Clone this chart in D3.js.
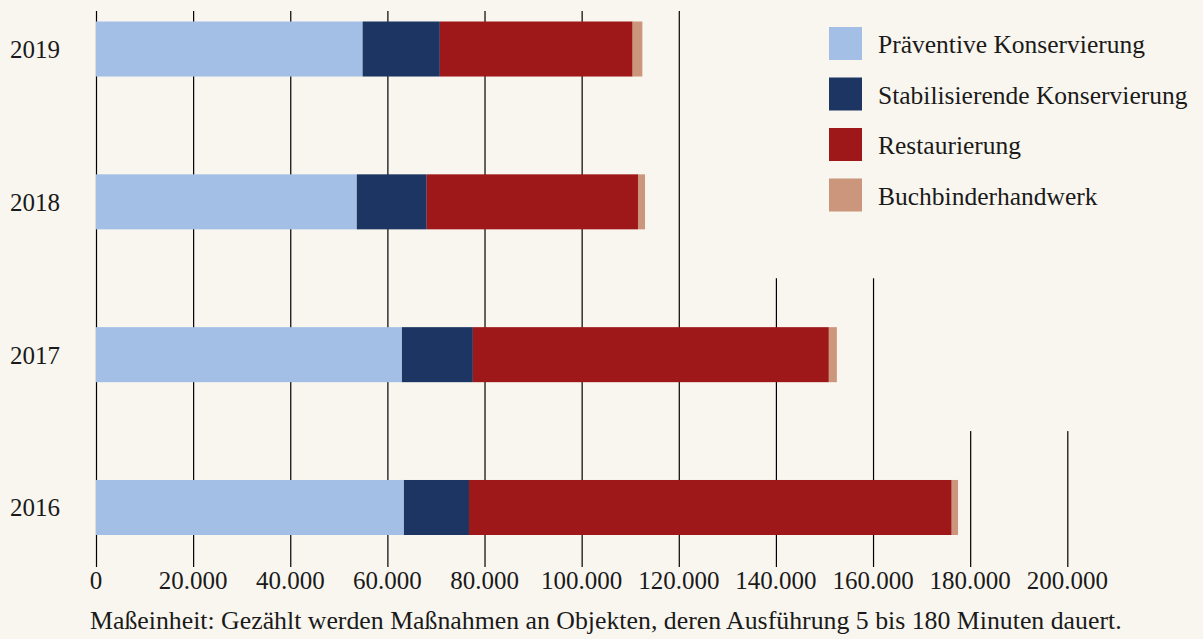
<!DOCTYPE html>
<html><head><meta charset="utf-8">
<script src="https://cdn.jsdelivr.net/npm/d3@7"></script>
<style>
html,body{margin:0;padding:0;background:#f9f6ef;}
svg{display:block;font-family:"Liberation Serif","Times New Roman",serif;}
</style></head>
<body>
<svg id="chart" width="1203" height="639"></svg>
<script>
const years = ["2019","2018","2017","2016"];
const seriesNames = ["Präventive Konservierung","Stabilisierende Konservierung","Restaurierung","Buchbinderhandwerk"];
const praeventiv = [54900, 53700, 63000, 63400];
const stabilisierend = [15900, 14400, 14600, 13400];
const restaurierung = [39700, 43500, 73300, 99400];
const buchbinder = [2000, 1450, 1650, 1300];
const tickValues = [0,20000,40000,60000,80000,100000,120000,140000,160000,180000,200000];
const colors = ["#a3bfe6","#1c3563","#9e181a","#cc967c"];
const footnote = "Maßeinheit: Gezählt werden Maßnahmen an Objekten, deren Ausführung 5 bis 180 Minuten dauert.";

const rows = years.map((y,i)=>({year:y, v:[praeventiv[i],stabilisierend[i],restaurierung[i],buchbinder[i]]}));
const svg = d3.select("#chart");
const W=1203,H=639;
svg.append("rect").attr("width",W).attr("height",H).attr("fill","#f9f6ef");

const x = d3.scaleLinear().domain([0,200000]).range([96,1067.3]);
const y = d3.scaleBand().domain(years).range([21.5,535]).paddingInner(0.64).paddingOuter(0);
const gridTop = 11, gridBottom = 567;
const fmt = v => d3.format(",")(v).replace(/,/g,".");

// gridlines
svg.append("g").selectAll("line").data(tickValues).join("line")
  .attr("x1",d=>x(d)+0.5).attr("x2",d=>x(d)+0.5)
  .attr("y1",gridTop).attr("y2",gridBottom)
  .attr("stroke","#000").attr("stroke-width",1.2);

// legend background masks (hide gridlines behind legend)
const mid = (a,b)=> (y(a)+y.bandwidth()+y(b))/2;
svg.append("rect").attr("x",x(130000)).attr("y",0).attr("width",W-x(130000)).attr("height",mid("2018","2017")).attr("fill","#f9f6ef");
svg.append("rect").attr("x",x(170000)).attr("y",0).attr("width",W-x(170000)).attr("height",mid("2017","2016")).attr("fill","#f9f6ef");

// stacked bars
const stackData = rows.map(r=>{let acc=0; return r.v.map((v,k)=>{const s=acc; acc+=v; return {year:r.year,k,s,e:acc};});}).flat();
svg.append("g").selectAll("rect").data(stackData).join("rect")
  .attr("x",d=>x(d.s)).attr("width",d=>x(d.e)-x(d.s))
  .attr("y",d=>y(d.year)).attr("height",y.bandwidth())
  .attr("fill",d=>colors[d.k]);

// year labels
svg.append("g").selectAll("text").data(years).join("text")
  .attr("x",10).attr("y",d=>y(d)+y.bandwidth()/2+9)
  .attr("font-size",25).attr("fill","#1a1a1a")
  .text(d=>d);

// tick labels
svg.append("g").selectAll("text").data(tickValues).join("text")
  .attr("x",d=>x(d)).attr("y",589).attr("text-anchor","middle")
  .attr("font-size",25).attr("fill","#1a1a1a")
  .text(d=>fmt(d));

// footnote
svg.append("text").attr("x",90).attr("y",629).attr("font-size",25.8).attr("fill","#1a1a1a").text(footnote);

// legend
const lg = svg.append("g").attr("transform","translate(829,27)");
const li = lg.selectAll("g").data(seriesNames).join("g").attr("transform",(d,i)=>`translate(0,${i*50.5})`);
li.append("rect").attr("width",33).attr("height",33).attr("fill",(d,i)=>colors[i]);
li.append("text").attr("x",49).attr("y",26).attr("font-size",25.5).attr("fill","#1a1a1a").text(d=>d);
</script>
</body></html>
